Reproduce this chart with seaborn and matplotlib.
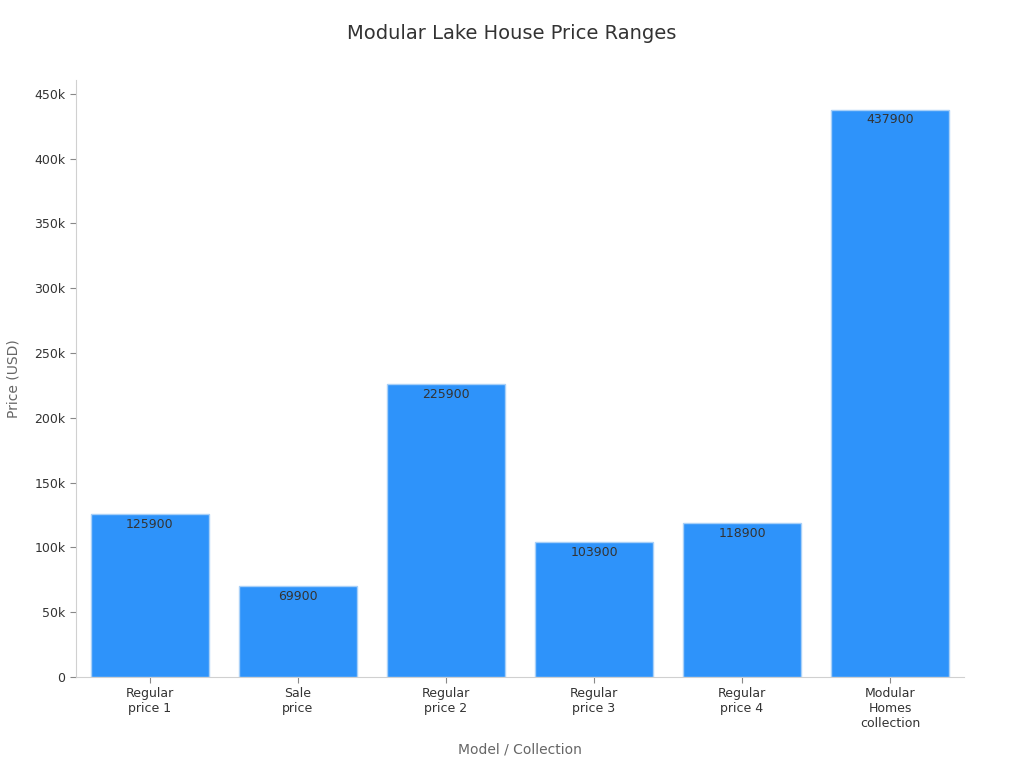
import pandas as pd
import matplotlib.pyplot as plt
import matplotlib.ticker as mticker
import seaborn as sns

# 数据
categories = ["Regular\nprice 1", "Sale\nprice", "Regular\nprice 2",
              "Regular\nprice 3", "Regular\nprice 4", "Modular\nHomes\ncollection"]
prices = [125900, 69900, 225900, 103900, 118900, 437900]

df = pd.DataFrame({"category": categories, "price": prices})

sns.set_style("white")
plt.rcParams['font.family'] = ['DejaVu Sans']

fig = plt.figure(figsize=(10.24, 7.68), dpi=100)
ax = fig.add_axes([0.0742, 0.1185, 0.8672, 0.7773])

sns.barplot(data=df, x="category", y="price", color="#2E93FA", saturation=1,
            width=0.8, edgecolor="#A8D0F8", linewidth=1, ax=ax)

# 柱内标注
for c in ax.containers:
    ax.bar_label(c, labels=[str(v) for v in prices], padding=-12,
                 fontsize=9, color="#333333")

ax.set_xlim(-0.5, 5.5)
ax.set_ylim(0, max(prices) * 1.052)
ax.yaxis.set_major_locator(mticker.MultipleLocator(50000))
ax.yaxis.set_major_formatter(mticker.FuncFormatter(
    lambda v, p: "0" if v == 0 else f"{int(v/1000)}k"))

# 标题居中于整张图
fig.suptitle("Modular Lake House Price Ranges", fontsize=14, color="#333333",
             x=0.5, y=0.957, va="center")
ax.set_xlabel("Model / Collection", fontsize=10, color="#666666", labelpad=9)
ax.set_ylabel("Price (USD)", fontsize=10, color="#666666", labelpad=10)

ax.tick_params(axis="both", which="major", length=4, color="#888888",
               labelsize=9, labelcolor="#333333", left=True, bottom=True)
for s in ["top", "right"]:
    ax.spines[s].set_visible(False)
for s in ["left", "bottom"]:
    ax.spines[s].set_color("#D0D0D0")

plt.savefig("out.png", dpi=100)
